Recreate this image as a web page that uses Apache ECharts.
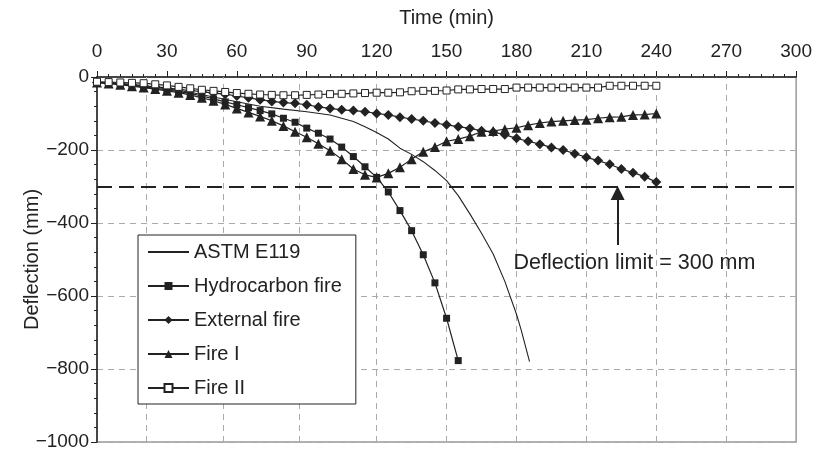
<!DOCTYPE html>
<html>
<head>
<meta charset="utf-8">
<script src="https://cdn.jsdelivr.net/npm/echarts@6/dist/echarts.min.js"></script>
<style>
  html, body { margin: 0; padding: 0; background: #fff; }
  #chart { width: 815px; height: 464px; }
</style>
</head>
<body>
<div id="chart"></div>
<script>
// time steps (min) for the marked series
const times = [0, 5, 10, 15, 20, 25, 30, 35, 40, 45, 50, 55, 60, 65, 70, 75, 80, 85, 90, 95,
  100, 105, 110, 115, 120, 125, 130, 135, 140, 145, 150, 155, 160, 165, 170, 175, 180, 185, 190, 195,
  200, 205, 210, 215, 220, 225, 230, 235, 240];

// deflection (mm)
const hydrocarbon = [-15, -17, -20, -23, -27, -31, -35, -40, -45, -52, -60, -68, -76, -84, -92, -101,
  -113, -124, -140, -154, -170, -192, -218, -246, -275, -315, -366, -421, -487, -564, -661, -777];

const externalFire = [-15, -17, -19, -21, -24, -27, -30, -34, -37, -40, -44, -47, -52, -57, -62, -67,
  -70, -72, -76, -82, -86, -90, -92, -95, -100, -104, -110, -115, -120, -126, -131, -136, -141, -147,
  -151, -158, -168, -176, -184, -193, -200, -210, -220, -229, -239, -252, -262, -273, -288];

const fireI = [-15, -18, -21, -25, -29, -33, -38, -43, -49, -57, -65, -75, -86, -97, -108, -120,
  -134, -150, -165, -183, -202, -225, -252, -268, -275, -264, -247, -225, -205, -192, -176, -170,
  -162, -150, -148, -143, -139, -132, -126, -122, -120, -118, -117, -113, -110, -109, -104, -103, -100];

const fireII = [-13, -14, -15, -16, -17, -20, -23, -27, -31, -35, -38, -41, -44, -46, -48, -49,
  -50, -50, -49, -48, -47, -46, -45, -44, -43, -43, -42, -39, -38, -38, -37, -34, -34, -33, -33, -33,
  -29, -29, -29, -29, -29, -29, -29, -29, -24, -24, -24, -24, -24];

const astmTimes = [0, 10, 20, 30, 40, 50, 60, 70, 80, 90, 100, 110, 115, 120, 125, 130, 135, 140,
  145, 150, 155, 160, 165, 170, 175, 180, 182, 185.6];
const astm = [-15, -18, -24, -32, -42, -55, -68, -80, -88, -95, -104, -122, -136, -152, -170, -195,
  -212, -232, -256, -284, -325, -375, -428, -485, -560, -650, -693, -780];

const xTicks = [0, 30, 60, 90, 120, 150, 180, 210, 240, 270, 300];
const yTicks = [0, -200, -400, -600, -800, -1000];
// dashed vertical guides as drawn in the original figure
const vGuides = [21, 54, 86.6, 120, 150, 180, 210, 240, 270];
const limit = -300;

const FONT = 'Liberation Sans, Arial, sans-serif';
const INK = '#222';

const pairs = (xs, ys) => ys.map((v, i) => [xs[i], v]);

const chart = echarts.init(document.getElementById('chart'), null, { renderer: 'canvas' });

const lineBase = {
  type: 'line',
  color: INK,
  lineStyle: { color: INK, width: 1.2 },
  animation: false,
  z: 3,
};

chart.setOption({
  backgroundColor: '#fff',
  textStyle: { fontFamily: FONT, color: INK },
  grid: {
    left: 97, right: 18, top: 77, bottom: 22,
    show: true, borderColor: '#999', borderWidth: 1.5, backgroundColor: 'transparent',
  },
  xAxis: {
    type: 'value',
    position: 'top',
    min: xTicks[0],
    max: xTicks[xTicks.length - 1],
    interval: 30,
    name: 'Time (min)',
    nameLocation: 'middle',
    nameGap: 49,
    nameMoveOverlap: false,
    nameTextStyle: { fontSize: 20, color: INK, fontFamily: FONT },
    axisLine: { onZero: false, lineStyle: { color: INK, width: 1.5 } },
    axisTick: { show: true, length: 6, lineStyle: { color: INK } },
    minorTick: { show: true, splitNumber: 6, length: 3, lineStyle: { color: INK } },
    axisLabel: { fontSize: 19, color: INK, margin: 16, fontFamily: FONT },
    splitLine: { show: false },
  },
  yAxis: {
    type: 'value',
    min: yTicks[yTicks.length - 1],
    max: yTicks[0],
    interval: 200,
    name: 'Deflection (mm)',
    nameLocation: 'middle',
    nameGap: 55,
    nameMoveOverlap: false,
    nameTextStyle: { fontSize: 20, color: INK, fontFamily: FONT },
    axisLine: { onZero: false, lineStyle: { color: INK, width: 1.5 } },
    axisTick: { show: true, length: 6, lineStyle: { color: INK } },
    minorTick: { show: true, splitNumber: 5, length: 3, lineStyle: { color: INK } },
    axisLabel: {
      fontSize: 19, color: INK, margin: 8, fontFamily: FONT,
      formatter: (v) => String(v).replace('-', '\u2212'),
    },
    splitLine: { show: true, lineStyle: { color: '#aaa', type: [6, 5], width: 1 } },
  },
  legend: {
    orient: 'vertical',
    left: 138,
    top: 235,
    data: [
      { name: 'ASTM E119', itemStyle: { opacity: 0 } },
      'Hydrocarbon fire', 'External fire', 'Fire I', 'Fire II',
    ],
    itemWidth: 41,
    itemHeight: 10,
    itemGap: 14,
    padding: [7, 14, 6, 9],
    backgroundColor: '#fff',
    borderColor: INK,
    borderWidth: 1,
    textStyle: { fontSize: 20, color: INK, fontFamily: FONT, lineHeight: 20 },
    z: 10,
  },
  series: [
    {
      ...lineBase,
      name: 'ASTM E119',
      data: pairs(astmTimes, astm),
      symbol: 'none',
      lineStyle: { color: INK, width: 1.1 },
      markLine: {
        silent: true,
        symbol: 'none',
        label: { show: false },
        lineStyle: { color: '#aaa', type: [6, 5], width: 1 },
        data: [
          ...vGuides.map((x) => ({ xAxis: x })),
          { yAxis: limit, lineStyle: { color: INK, type: [15, 7], width: 2 } },
        ],
        z: 1,
      },
    },
    {
      ...lineBase,
      name: 'Hydrocarbon fire',
      data: pairs(times, hydrocarbon),
      symbol: 'rect',
      symbolSize: 7,
      itemStyle: { color: INK },
    },
    {
      ...lineBase,
      name: 'External fire',
      data: pairs(times, externalFire),
      symbol: 'diamond',
      symbolSize: 10,
      itemStyle: { color: INK },
    },
    {
      ...lineBase,
      name: 'Fire I',
      data: pairs(times, fireI),
      symbol: 'triangle',
      symbolSize: 10,
      itemStyle: { color: INK },
    },
    {
      ...lineBase,
      name: 'Fire II',
      data: pairs(times, fireII),
      symbol: 'rect',
      symbolSize: 7,
      itemStyle: { color: '#fff', borderColor: INK, borderWidth: 1 },
      markLine: {
        silent: true,
        symbol: ['none', 'triangle'],
        symbolSize: 14,
        label: { show: false },
        lineStyle: { color: INK, type: 'solid', width: 2 },
        data: [
          [
            { coord: [223.4, -460] },
            { coord: [223.4, -318] },
          ],
        ],
      },
      markPoint: {
        silent: true,
        symbolSize: 0,
        data: [{
          coord: [230.6, -510],
          label: {
            show: true,
            formatter: 'Deflection limit = 300 mm',
            fontSize: 21.5,
            color: INK,
            fontFamily: FONT,
          },
        }],
      },
    },
  ],
});
</script>
</body>
</html>
